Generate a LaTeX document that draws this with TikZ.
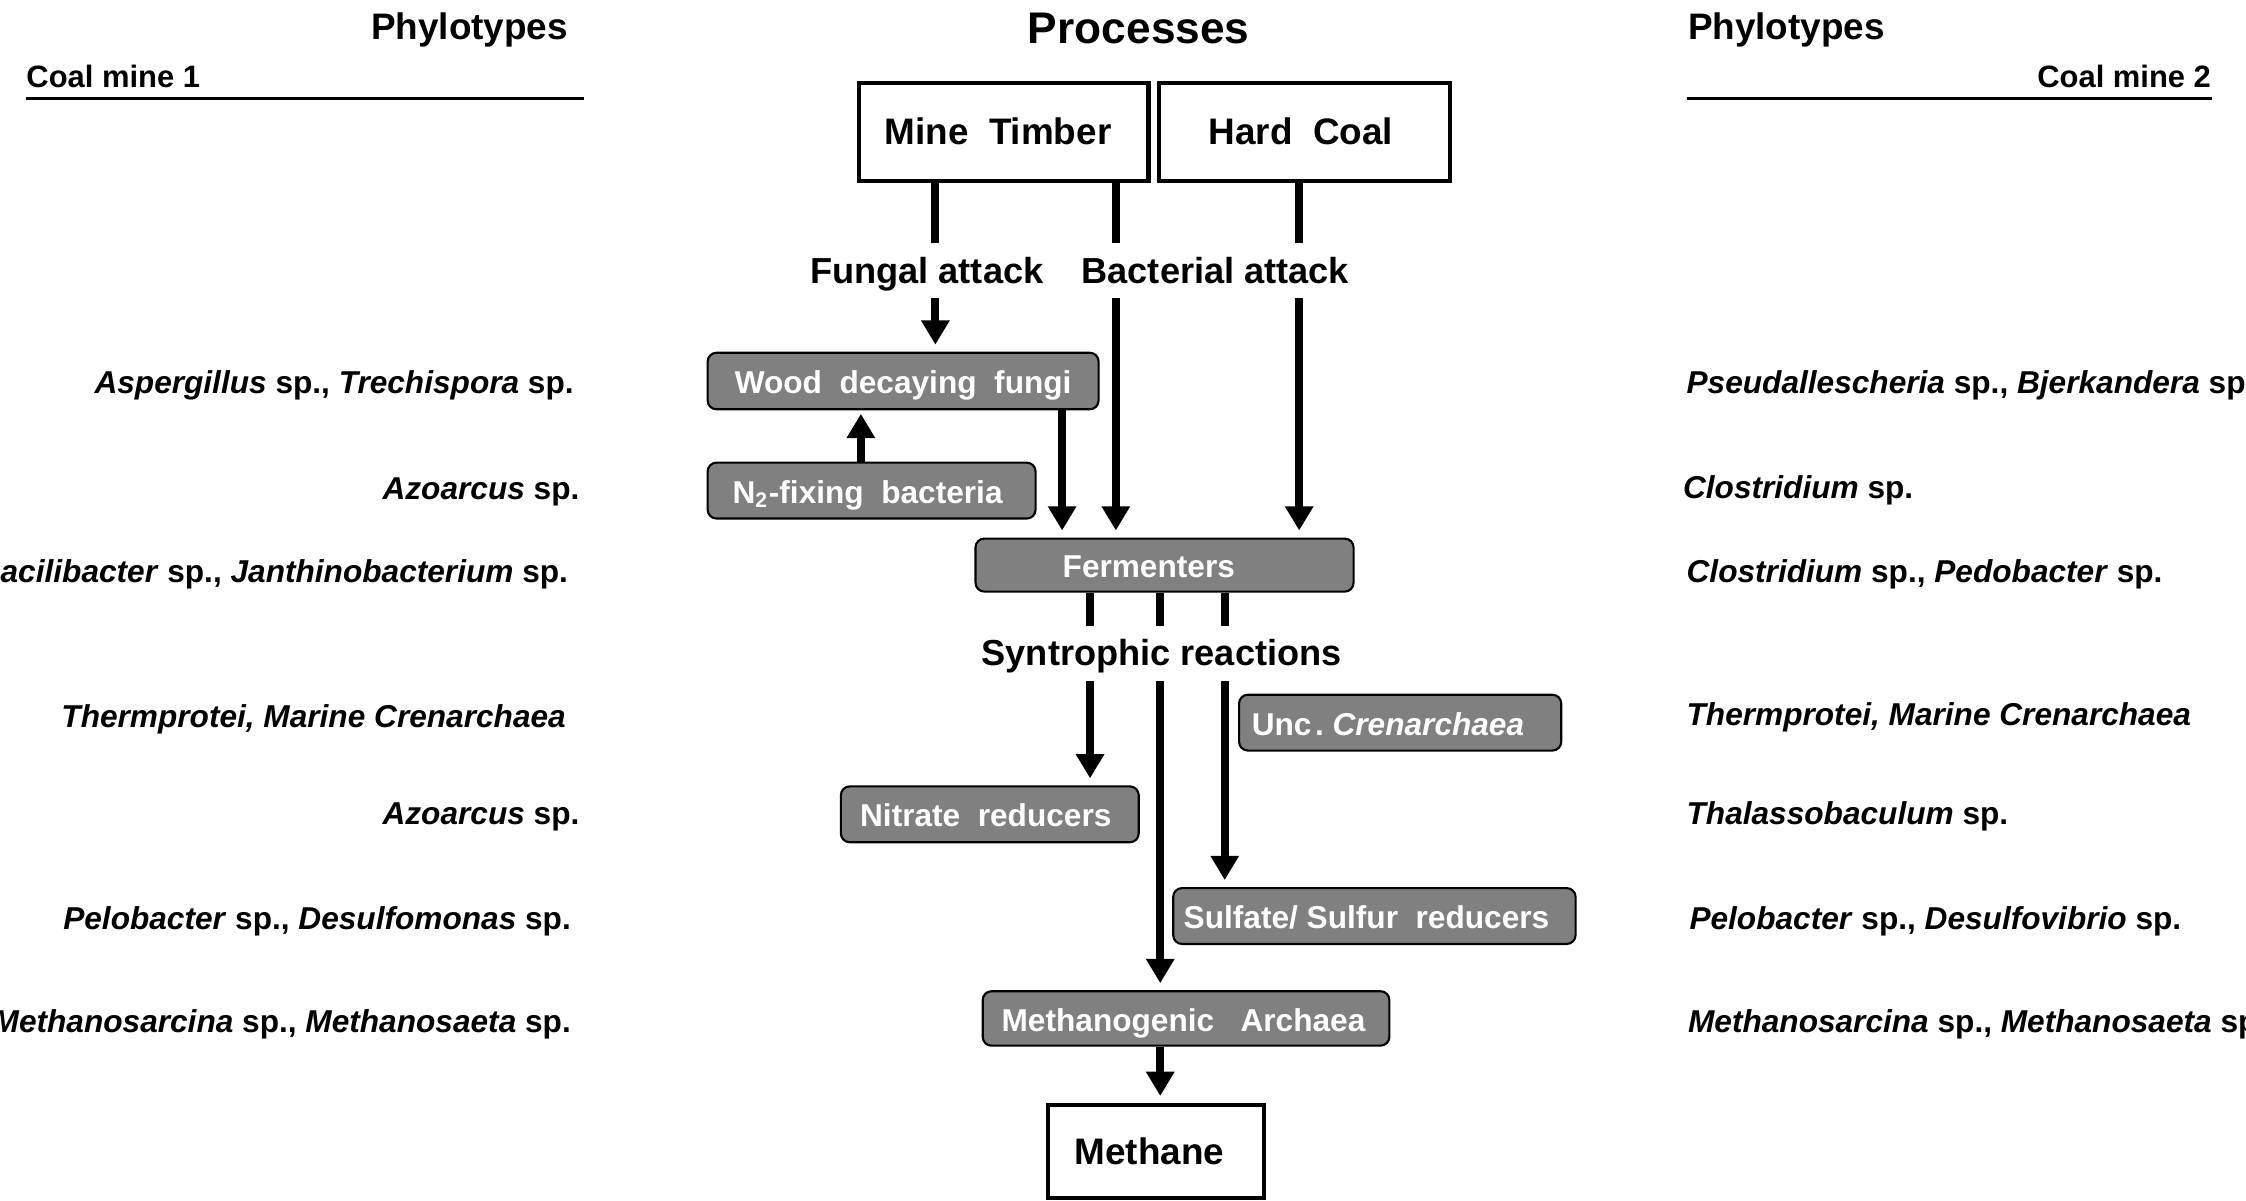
\documentclass[tikz,border=0pt]{standalone}
\usepackage{fontspec}
\setmainfont{Liberation Sans}
\usetikzlibrary{arrows.meta}
\definecolor{boxgray}{RGB}{128,128,128}

\newcommand\dpx{0.14324mm}

\tikzset{
  srcbox/.style={draw, line width=1.2pt, fill=white, inner sep=0pt,
    font=\bfseries\fontsize{10.5}{12}\selectfont, text height=0.72em, text depth=0pt},
  graybox/.style={draw, line width=0.6pt, fill=boxgray, rounded corners=2.5pt, text=white,
    inner sep=0pt, font=\bfseries\fontsize{9}{10}\selectfont, text height=0.72em, text depth=0pt},
  steplabel/.style={font=\bfseries\fontsize{10.3}{12}\selectfont, inner xsep=0pt, inner ysep=4pt,
    text height=0.72em, text depth=0pt},
  species/.style={font=\bfseries\fontsize{9}{10}\selectfont, inner sep=0pt,
    text height=0.72em, text depth=0pt},
  flow/.style={line width=2.3pt},
  flowarrow/.style={flow, -{Triangle[width=7.7pt,length=6.9pt]}, shorten >=2pt},
}

\begin{document}
\begin{tikzpicture}[x=0.014324cm, y=-0.014324cm]
\useasboundingbox (0,0) rectangle (1568,838);
\newcommand\leftx{401}
\newcommand\rightx{1177}

% headings
\node[font=\bfseries\fontsize{12.6}{14}\selectfont, inner sep=0pt, text height=0.72em, text depth=0pt] (title) at (795,21.5) {Processes};
\node[species, font=\bfseries\fontsize{10.5}{12}\selectfont, anchor=east] (phyl) at (397,19) {Phylotypes};
\node[species, font=\bfseries\fontsize{8.8}{10}\selectfont, anchor=west] (mine1) at (18,52) {Coal mine 1};
\node[species, font=\bfseries\fontsize{10.5}{12}\selectfont, anchor=west] (phyr) at (1178,19) {Phylotypes};
\node[species, font=\bfseries\fontsize{8.8}{10}\selectfont, anchor=east] (mine2) at (1544,52) {Coal mine 2};
\draw[line width=1.1pt] (18,68.8) -- (408,68.8);
\draw[line width=1.1pt] (1178,68.8) -- (1544,68.8);

% substrates and product
\node[srcbox, minimum width=202.4*\dpx, minimum height=68.6*\dpx] (timber) at (700.7,92.3) {Mine\ \ Timber\kern1.15mm};
\node[srcbox, minimum width=203.5*\dpx, minimum height=68.6*\dpx] (coal) at (910.7,92.3) {Hard\ \ Coal\kern0.7mm};
\node[srcbox, minimum width=151*\dpx, minimum height=65*\dpx] (methane) at (807,804) {Methane\kern1.3mm};

% step labels
\node[steplabel] (fungal) at (647,189) {Fungal attack};
\node[steplabel] (bacterial) at (848.5,189) {Bacterial attack};
\node[steplabel] (syn) at (811,456) {Syntrophic reactions};

% groups
\node[graybox, minimum width=273*\dpx, minimum height=39.5*\dpx] (wood) at (630.5,266) {Wood\ \ decaying\ \ fungi};
\node[graybox, minimum width=229*\dpx, minimum height=39*\dpx] (nfix) at (608.5,342.5) {N\textsubscript{2}-fixing\ \ bacteria\kern0.8mm};
\node[graybox, minimum width=264*\dpx, minimum height=37*\dpx] (ferm) at (813,394.5) {Fermenters\kern3.15mm};
\node[graybox, minimum width=225*\dpx, minimum height=39*\dpx] (unc) at (977.5,504.5) {Unc\kern1pt.\ \textit{Crenarchaea}\kern2.44mm};
\node[graybox, minimum width=208*\dpx, minimum height=39*\dpx] (nitrate) at (691,568.5) {Nitrate\ \ reducers\kern0.8mm};
\node[graybox, minimum width=281*\dpx, minimum height=39*\dpx] (sulfate) at (959.5,639.5) {Sulfate/ Sulfur\ \ reducers\kern1.58mm};
\node[graybox, minimum width=284*\dpx, minimum height=38*\dpx] (methano) at (828,711) {Methanogenic\ \ \ Archaea\kern0.5mm};

% columns
\coordinate (colF) at (653,0);
\coordinate (colB) at (779,0);
\coordinate (colH) at (907,0);
\coordinate (colW) at (741.5,0);
\coordinate (colN) at (601,0);
\coordinate (colA) at (761,0);
\coordinate (colM) at (810,0);
\coordinate (colS) at (855,0);

% arrows
\draw[flow] (timber.south -| colF) -- (fungal.north -| colF);
\draw[flowarrow] (fungal.south -| colF) -- (wood.north -| colF);
\draw[flow] (timber.south -| colB) -- (bacterial.north -| colB);
\draw[flowarrow] (bacterial.south -| colB) -- (ferm.north -| colB);
\draw[flow] (coal.south -| colH) -- (bacterial.north -| colH);
\draw[flowarrow] (bacterial.south -| colH) -- (ferm.north -| colH);
\draw[flowarrow] (wood.south -| colW) -- (ferm.north -| colW);
\draw[flowarrow, shorten >=1pt] (nfix.north -| colN) -- (wood.south -| colN);
\foreach \c/\t in {colA/nitrate, colM/methano, colS/sulfate}
{
\draw[flow] (ferm.south -| \c) -- (syn.north -| \c);
\draw[flowarrow] (syn.south -| \c) -- (\t.north -| \c);
}
\draw[flowarrow] (methano.south -| colM) -- (methane.north -| colM);

% coal mine 1
\node[species, anchor=east] (l1) at (\leftx,266) {\textit{Aspergillus} sp., \textit{Trechispora} sp.};
\node[species, anchor=east] (l2) at (\leftx+4,340) {\textit{Azoarcus} sp.};
\node[species, anchor=east] (l3) at (\leftx-4,398) {\textit{acilibacter} sp., \textit{Janthinobacterium} sp.};
\node[species, anchor=east] (l4) at (\leftx-5.5,499) {\textit{Thermprotei, Marine Crenarchaea}};
\node[species, anchor=east] (l5) at (\leftx+4,567) {\textit{Azoarcus} sp.};
\node[species, anchor=east] (l6) at (\leftx-2,640) {\textit{Pelobacter} sp., \textit{Desulfomonas} sp.};
\node[species, anchor=east] (l7) at (\leftx-2,712) {\textit{Methanosarcina} sp., \textit{Methanosaeta} sp.};

% coal mine 2
\node[species, anchor=west] (r1) at (\rightx,266) {\textit{Pseudallescheria} sp., \textit{Bjerkandera} sp.};
\node[species, anchor=west] (r2) at (\rightx-2.5,339) {\textit{Clostridium} sp.};
\node[species, anchor=west] (r3) at (\rightx,398) {\textit{Clostridium} sp., \textit{Pedobacter} sp.};
\node[species, anchor=west] (r4) at (\rightx,498) {\textit{Thermprotei, Marine Crenarchaea}};
\node[species, anchor=west] (r5) at (\rightx,567) {\textit{Thalassobaculum} sp.};
\node[species, anchor=west] (r6) at (\rightx+2,640) {\textit{Pelobacter} sp., \textit{Desulfovibrio} sp.};
\node[species, anchor=west] (r7) at (\rightx+1,712) {\textit{Methanosarcina} sp., \textit{Methanosaeta} sp.};
\end{tikzpicture}
\end{document}
